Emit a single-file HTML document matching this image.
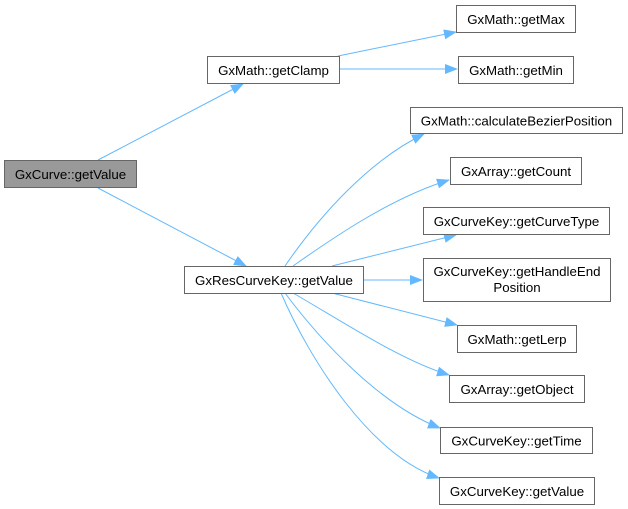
<!DOCTYPE html>
<html><head><meta charset="utf-8"><style>
html,body{margin:0;padding:0;background:#fff;}
svg{display:block;}
text{font-family:"Liberation Sans",Arial,sans-serif;font-size:13.3px;fill:#000;}
</style></head><body>
<svg width="628" height="509" viewBox="0 0 628 509" xmlns="http://www.w3.org/2000/svg">
<defs>
<marker id="a" markerWidth="13" markerHeight="10" refX="12" refY="5" orient="auto" markerUnits="userSpaceOnUse">
<path d="M0,0 L13,5 L0,10 Z" fill="#63b8ff"/>
</marker>
</defs>
<g fill="none" stroke="#63b8ff" stroke-width="1" marker-end="url(#a)">
<path d="M98,160 L243,84"/>
<path d="M98,188 L246,266"/>
<path d="M338,56 L456,32"/>
<path d="M339,69 L457,69"/>
<path d="M285,266 C320,215 370,160 424,134"/>
<path d="M293,266 C330,240 390,198 449,180"/>
<path d="M332,266 L456,235"/>
<path d="M363,280 L422,280"/>
<path d="M332,293 L457,325"/>
<path d="M293,293 C340,320 400,360 449,375"/>
<path d="M285,293 C320,340 380,405 440,428"/>
<path d="M281,293 C310,360 370,455 439,478"/>
</g>
<g stroke="#666" stroke-width="1">
<rect x="4.5" y="160.5" width="132" height="27" fill="#999"/>
<rect x="207.5" y="56.5" width="132" height="27" fill="#fff"/>
<rect x="456.5" y="5.5" width="119" height="27" fill="#fff"/>
<rect x="458.5" y="56.5" width="115" height="27" fill="#fff"/>
<rect x="410.5" y="107.5" width="212" height="26" fill="#fff"/>
<rect x="450.5" y="157.5" width="131" height="27" fill="#fff"/>
<rect x="184.5" y="266.5" width="179" height="27" fill="#fff"/>
<rect x="423.5" y="207.5" width="186" height="27" fill="#fff"/>
<rect x="423.5" y="258.5" width="187" height="43" fill="#fff"/>
<rect x="457.5" y="325.5" width="119" height="27" fill="#fff"/>
<rect x="449.5" y="375.5" width="135" height="27" fill="#fff"/>
<rect x="440.5" y="427.5" width="152" height="26" fill="#fff"/>
<rect x="439.5" y="477.5" width="155" height="27" fill="#fff"/>
</g>
<g text-anchor="middle">
<text x="70.5" y="179">GxCurve::getValue</text>
<text x="273.5" y="75">GxMath::getClamp</text>
<text x="516" y="24">GxMath::getMax</text>
<text x="516" y="75">GxMath::getMin</text>
<text x="516.5" y="125.5">GxMath::calculateBezierPosition</text>
<text x="516" y="176">GxArray::getCount</text>
<text x="274" y="285">GxResCurveKey::getValue</text>
<text x="516.5" y="226">GxCurveKey::getCurveType</text>
<text x="517" y="276">GxCurveKey::getHandleEnd</text>
<text x="517" y="292">Position</text>
<text x="517" y="344">GxMath::getLerp</text>
<text x="517" y="394">GxArray::getObject</text>
<text x="516.5" y="445.5">GxCurveKey::getTime</text>
<text x="517" y="496">GxCurveKey::getValue</text>
</g>
</svg>
</body></html>
